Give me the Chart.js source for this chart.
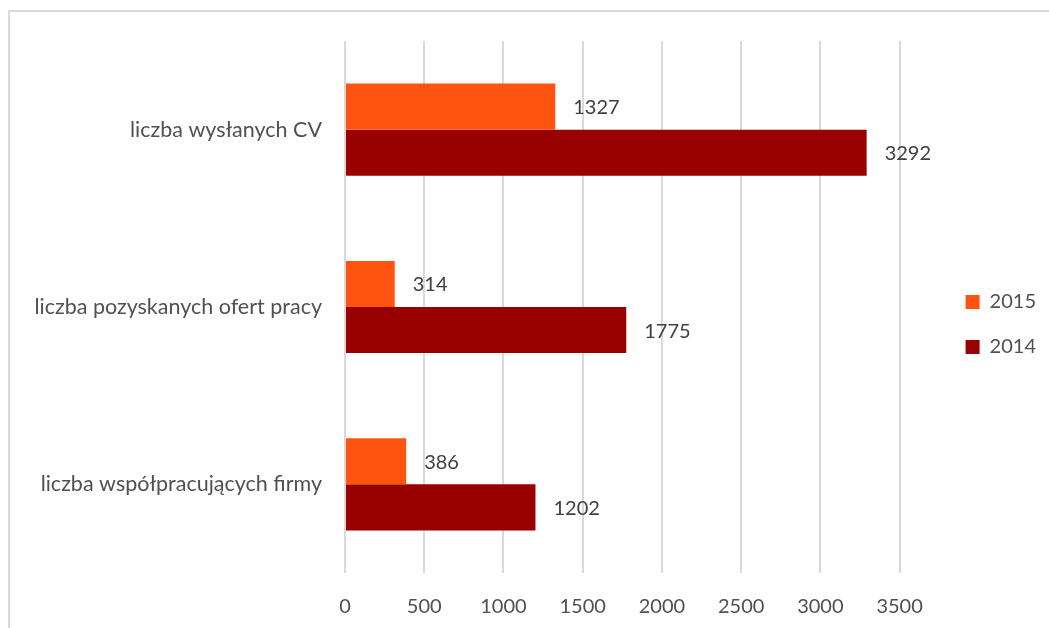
<!DOCTYPE html>
<html>
<head>
<meta charset="utf-8">
<script src="https://cdn.jsdelivr.net/npm/chart.js@4/dist/chart.umd.min.js"></script>
<style>
  html, body { margin: 0; padding: 0; background: #fff; overflow: hidden; }
  #wrap { position: relative; width: 1049px; height: 628px; }
  #frame { position: absolute; left: 8px; top: 10px; width: 1100px; height: 700px;
           border-top: 2px solid #d9d9d9; border-left: 2px solid #d9d9d9; }
  canvas { position: absolute; left: 0; top: 0; }
</style>
</head>
<body>
<div id="wrap">
  <div id="frame"></div>
  <canvas id="chart" width="1049" height="628"></canvas>
</div>
<script>
// data
var categories = ["liczba wysłanych CV", "liczba pozyskanych ofert pracy", "liczba współpracujących firmy"];
var years = ["2015", "2014"];
var values2015 = [1327, 314, 386];
var values2014 = [3292, 1775, 1202];
var xTicks = [0, 500, 1000, 1500, 2000, 2500, 3000, 3500];

var barLabels = {
    id: "barLabels",
    afterDatasetsDraw(chart) {
        const ctx = chart.ctx;
        ctx.save();
        ctx.font = "20px Lato";
        ctx.fillStyle = "#404040";
        ctx.textAlign = "left";
        ctx.textBaseline = "middle";
        chart.data.datasets.forEach((ds, i) => {
            chart.getDatasetMeta(i).data.forEach((bar, j) => {
                ctx.fillText(ds.data[j], bar.x + 18, bar.y + 1);
            });
        });
        ctx.restore();
    },
};

// move legend a bit right of the plot area and slightly up
var legendShift = {
    id: "legendShift",
    afterLayout(chart) {
        if (chart.legend) {
            chart.legend.left += 41;
            chart.legend.right += 41;
            chart.legend.top -= 10;
            chart.legend.bottom -= 10;
        }
    },
};

let ctx = document.getElementById("chart").getContext("2d");
let myChart = new Chart(ctx, {
    type: "bar",
    data: {
        labels: categories,
        datasets: [
            {
                label: years[0],
                data: values2015,
                backgroundColor: "#ff540f",
            },
            {
                label: years[1],
                data: values2014,
                backgroundColor: "#990000",
            },
        ],
    },
    plugins: [barLabels, legendShift],
    options: {
        indexAxis: "y",
        responsive: false,
        animation: false,
        categoryPercentage: 0.52,
        barPercentage: 1,
        layout: {
            padding: { top: 41, bottom: 0, left: 0, right: 44 },
        },
        plugins: {
            legend: {
                position: "right",
                labels: {
                    boxWidth: 14,
                    boxHeight: 14,
                    padding: 25,
                    color: "#505050",
                    font: { family: "Lato", size: 20 },
                },
            },
            tooltip: { enabled: false },
        },
        scales: {
            x: {
                min: 0,
                max: 3500,
                afterBuildTicks(scale) {
                    scale.ticks = xTicks.map((v) => ({ value: v }));
                },
                afterFit(scale) {
                    scale.height = 55;
                },
                ticks: {
                    color: "#505050",
                    padding: 22,
                    font: { family: "Lato", size: 20 },
                    callback: (v) => String(v),
                },
                grid: {
                    color: "#d9d9d9",
                    lineWidth: 2,
                    drawTicks: false,
                },
                border: { display: false },
            },
            y: {
                afterFit(scale) {
                    scale.width = 345;
                },
                ticks: {
                    color: "#505050",
                    padding: 15,
                    font: { family: "Lato", size: 21.5 },
                },
                grid: {
                    display: false,
                },
                border: { display: false },
            },
        },
    },
});
</script>
</body>
</html>
